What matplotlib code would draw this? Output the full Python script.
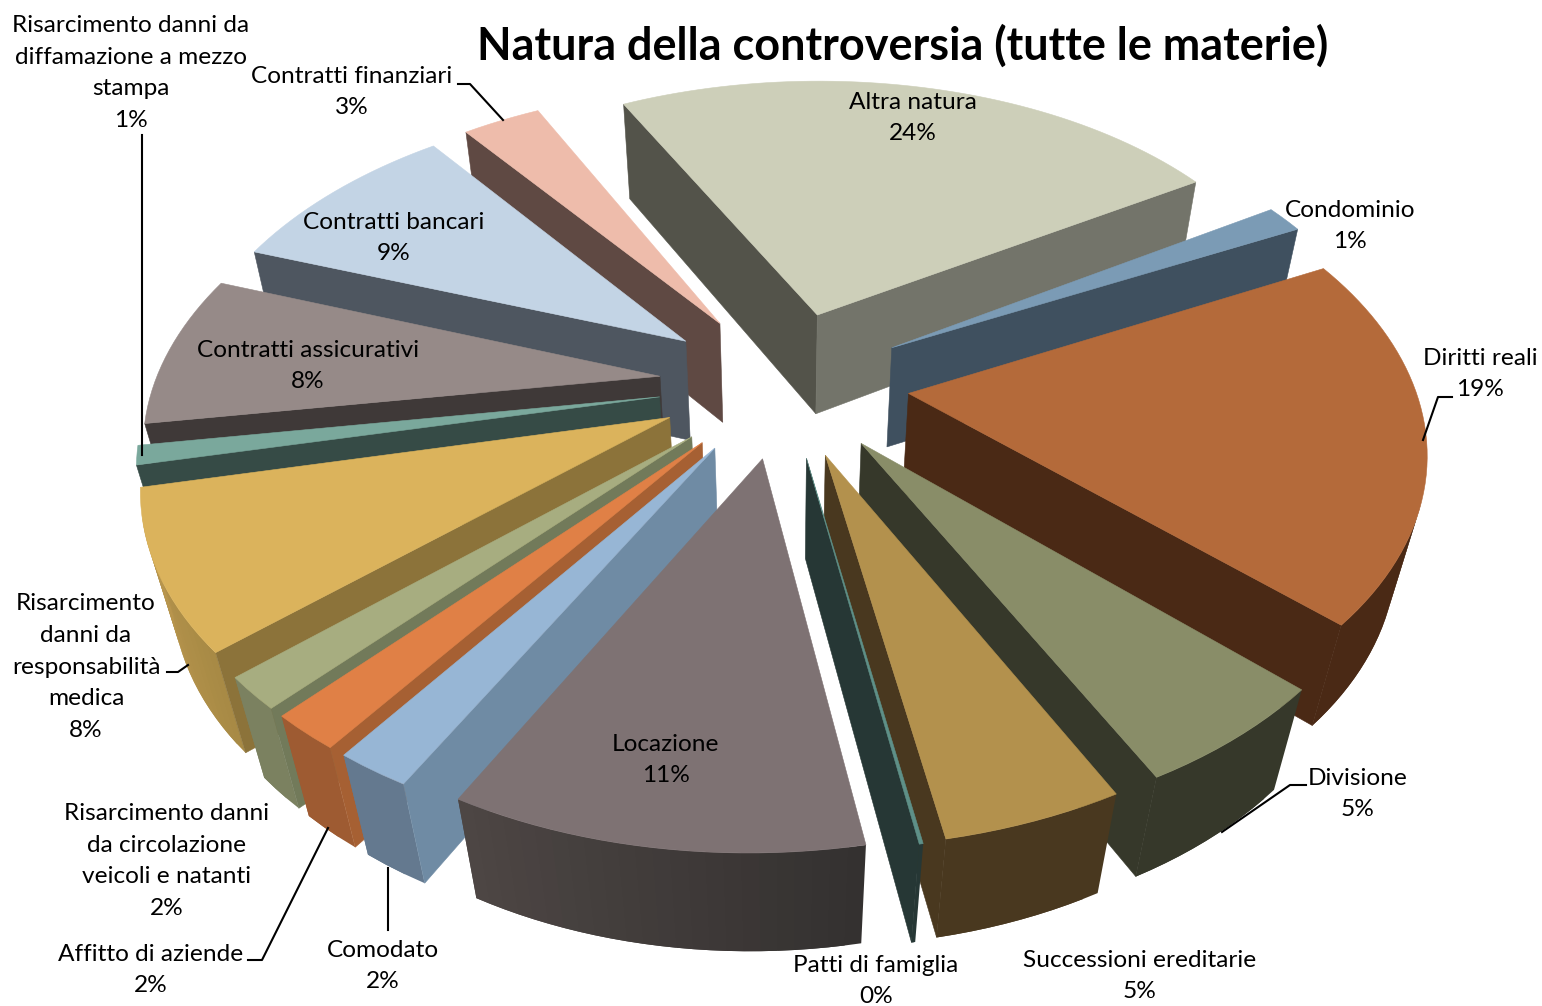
import numpy as np
import matplotlib
matplotlib.use('Agg')
import matplotlib.pyplot as plt
from matplotlib.colors import to_rgb

plt.rcParams['font.family'] = ['Lato', 'DejaVu Sans']

# -------------------------------
# Data
# -------------------------------
names = ['Altra natura', 'Condominio', 'Diritti reali', 'Divisione', 'Successioni ereditarie',
         'Patti di famiglia', 'Locazione', 'Comodato', 'Affitto di aziende',
         'Risarcimento danni\nda circolazione\nveicoli e natanti',
         'Risarcimento\ndanni da\nresponsabilità\nmedica',
         'Risarcimento danni da\ndiffamazione a mezzo\nstampa',
         'Contratti assicurativi', 'Contratti bancari', 'Contratti finanziari']
values = [23.9, 1.49, 19.49, 5.4, 4.7, 0.1, 10.7, 2, 1.9, 1.7, 8.3, 1, 8, 9, 3]
title = 'Natura della controversia (tutte le materie)'

# -------------------------------
# Styles: top, start face, end face, outer wall (left and right end)
# -------------------------------
top_cols = ['#CDCFB9', '#7B9BB5', '#B46A3A', '#898D68', '#B3914D', '#5E9088', '#7E7273', '#97B6D5',
            '#E08046', '#A7AD80', '#DBB35C', '#7AA89C', '#968A88', '#C3D4E5', '#EEBCAB']
start_cols = ['#53534A', '#3F505F', '#4A2915', '#36382A', '#49381F', '#263735', '#403B3A', '#6F8BA4',
              '#A66033', '#727A5A', '#8C733A', '#364B46', '#3F3938', '#4E5660', '#5F4943']
end_cols = ['#73746A', '#3F505F', '#4A2915', '#36382A', '#49381F', '#263735', '#403B3A', '#64798F',
            '#9E5B32', '#7B8160', '#A88A45', '#364B46', '#3F3938', '#4E5660', '#5F4943']
wall_a = ['#73746A', '#3F505F', '#4A2915', '#36382A', '#49381F', '#263735', '#343130', '#64798F',
          '#9E5B32', '#7B8160', '#A88A45', '#7AA89C', '#968A88', '#C3D4E5', '#EEBCAB']
wall_b = ['#73746A', '#3F505F', '#4A2915', '#36382A', '#49381F', '#263735', '#4D4644', '#64798F',
          '#9E5B32', '#7B8160', '#BD9950', '#7AA89C', '#968A88', '#C3D4E5', '#EEBCAB']

# label centres in pixels, and leader lines
label_pos = [(913, 118), (1350, 226), (1480, 374), (1358, 794), (1140, 976), (876, 981), (666, 760),
             (383, 966), (151, 970), (167, 861), (86, 667), (131, 73), (308, 366), (394, 238), (352, 92)]
leaders = [[(458, 84), (470, 84), (503, 120)],
           [(1452, 397), (1438, 397), (1423, 440)],
           [(1306, 785), (1290, 785), (1222, 832)],
           [(388, 868), (388, 930)],
           [(248, 960), (262, 960), (328, 828)],
           [(167, 672), (178, 672), (188, 665)],
           [(142, 135), (142, 455)]]

# -------------------------------
# 3D pie camera
# -------------------------------
start_angle = 117.5
explode = 0.248
height = 0.255
cx, cy = 784.0, 383.0
scale = 505.0
sin_e, cos_e = 0.586, 0.81
dist = 4.67
shear = 0.015
taper = 1.5
cam = np.array([0, -dist * cos_e, dist * sin_e])


def project(x, y, z):
    depth = 1 + (y * cos_e - taper * z * sin_e) / dist
    return cx + scale * (x + shear * y) / depth, cy - scale * (y * sin_e + z * cos_e) / depth


def visible(p, normal):
    return np.dot(np.array(normal), cam - np.array(p)) > 0


def face(ax, pts, col, z, lw=0.4):
    xy = [project(*p) for p in pts]
    ax.fill([q[0] for q in xy], [q[1] for q in xy], facecolor=col, edgecolor=col if lw else 'none',
            lw=lw, zorder=z)


fig = plt.figure(figsize=(15.42, 10.06), dpi=100)
ax = fig.add_axes([0, 0, 1, 1])
ax.set_xlim(0, 1542)
ax.set_ylim(1006, 0)
ax.axis('off')

# -------------------------------
# Slices, back to front
# -------------------------------
shares = np.array(values, dtype=float) / np.sum(values) * 360
edges = start_angle - np.concatenate([[0], np.cumsum(shares)])
mids = np.radians((edges[:-1] + edges[1:]) / 2)
order = np.argsort(-np.sin(mids))

z = 2
for i in order:
    t0, t1 = np.radians(edges[i]), np.radians(edges[i + 1])
    ox, oy = explode * np.cos(mids[i]), explode * np.sin(mids[i])
    arc = np.linspace(t0, t1, max(4, int(abs(edges[i] - edges[i + 1]) / 1.5)))
    arc_x, arc_y = ox + np.cos(arc), oy + np.sin(arc)

    # outer wall, each strip runs under the next one so no seams show
    for k in range(len(arc) - 1):
        tm = (arc[k] + arc[k + 1]) / 2
        if not visible((ox + np.cos(tm), oy + np.sin(tm), 0), (np.cos(tm), np.sin(tm), 0)):
            continue
        f = k / max(1, len(arc) - 2)
        col = tuple((1 - f) * np.array(to_rgb(wall_a[i])) + f * np.array(to_rgb(wall_b[i])))
        e = min(k + 2, len(arc) - 1)
        pts = [(arc_x[j], arc_y[j], 0) for j in range(k, e + 1)]
        pts += [(arc_x[j], arc_y[j], -height) for j in range(e, k - 1, -1)]
        face(ax, pts, col, z, lw=0)

    # cut faces
    n0 = (np.cos(t0 + np.pi / 2), np.sin(t0 + np.pi / 2), 0)
    n1 = (np.cos(t1 - np.pi / 2), np.sin(t1 - np.pi / 2), 0)
    if visible((ox, oy, 0), n0):
        face(ax, [(ox, oy, 0), (arc_x[0], arc_y[0], 0), (arc_x[0], arc_y[0], -height),
                  (ox, oy, -height)], start_cols[i], z + 0.2)
    if visible((ox, oy, 0), n1):
        face(ax, [(ox, oy, 0), (arc_x[-1], arc_y[-1], 0), (arc_x[-1], arc_y[-1], -height),
                  (ox, oy, -height)], end_cols[i], z + 0.2)

    # top
    face(ax, [(ox, oy, 0)] + [(a, b, 0) for a, b in zip(arc_x, arc_y)], top_cols[i], z + 0.5)
    z += 1

# -------------------------------
# Text
# -------------------------------
for line in leaders:
    ax.plot([p[0] for p in line], [p[1] for p in line], color='k', lw=1.5, zorder=40)

for name, val, pos in zip(names, values, label_pos):
    ax.text(pos[0], pos[1], f'{name}\n{round(val)}%', ha='center', va='center', fontsize=17.6,
            color='k', linespacing=1.63, zorder=50)

ax.text(903, 46, title, ha='center', va='center', fontsize=32.4, fontweight='bold', color='k', zorder=50)

fig.savefig('out.png', dpi=100)
